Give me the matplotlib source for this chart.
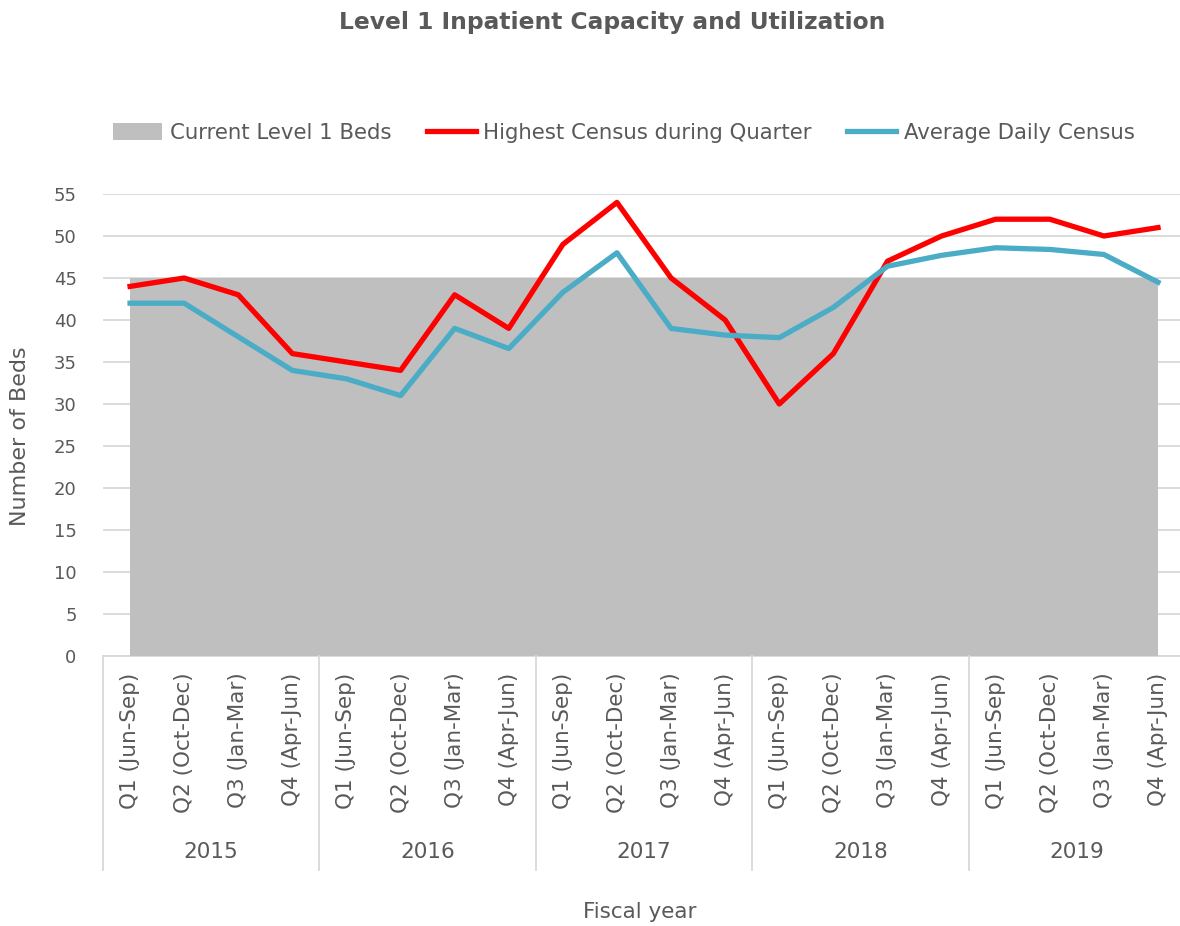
import numpy as np
import matplotlib.pyplot as plt
import matplotlib.transforms as mtransforms

plt.rcParams['font.family'] = ['DejaVu Sans']

years = ['2015', '2016', '2017', '2018', '2019']
quarters = ['Q1 (Jun-Sep)', 'Q2 (Oct-Dec)', 'Q3 (Jan-Mar)', 'Q4 (Apr-Jun)']
beds = [45] * 20
highest = [44, 45, 43, 36, 35, 34, 43, 39, 49, 54,
           45, 40, 30, 36, 47, 50, 52, 52, 50, 51]
average = [42, 42, 38, 34, 33, 31, 39, 36.6, 43.3, 48,
           39, 38.2, 37.9, 41.5, 46.4, 47.7, 48.6, 48.4, 47.8, 44.5]

labels = quarters * len(years)
x = np.arange(len(labels))
txt = '#595959'

fig = plt.figure(figsize=(11.8, 9.26), dpi=100)
ax = fig.add_axes([103 / 1180, 1 - 656 / 926, 1 - 103 / 1180, 462 / 926])

ax.fill_between(x, 0, beds, color='#bfbfbf', linewidth=0, label='Current Level 1 Beds', zorder=2)
ax.plot(x, highest, color='#ff0000', lw=3.8, label='Highest Census during Quarter', zorder=3)
ax.plot(x, average, color='#4bacc6', lw=3.8, label='Average Daily Census', zorder=3)

ax.set_ylim(0, 55)
ax.set_xlim(-0.5, 19 + 22 / 54.1)
ax.set_yticks(range(0, 56, 5))
ax.grid(axis='y', color='#d9d9d9', lw=1.3, zorder=0)
ax.set_axisbelow(True)
for s in ['top', 'right', 'left']:
    ax.spines[s].set_visible(False)
ax.spines['bottom'].set_color('#d9d9d9')
ax.spines['bottom'].set_linewidth(1.3)
ax.spines['bottom'].set_zorder(1)

ax.tick_params(axis='y', length=0, pad=19, labelsize=13, labelcolor=txt)
ax.set_xticks(x)
ax.set_xticklabels(labels, rotation=90, fontsize=15.5, color=txt)
ax.tick_params(axis='x', length=0, pad=12)

# year group labels and separators
trans = mtransforms.blended_transform_factory(ax.transData, ax.transAxes)
for i, yr in enumerate(years):
    ax.text(i * 4 + 1.5, -0.424, yr, transform=trans, ha='center', va='center',
            fontsize=15.5, color=txt)
for b in np.arange(-0.5, 20, 4):
    ax.plot([b, b], [0, -0.463], transform=trans, color='#d9d9d9', lw=1.3, clip_on=False)

fig.text(20 / 1180, 1 - 436 / 926, 'Number of Beds', rotation=90, ha='center', va='center',
         fontsize=16, color=txt)
fig.text(640 / 1180, 1 - 912 / 926, 'Fiscal year', ha='center', va='center', fontsize=15.5, color=txt)
fig.text(612 / 1180, 1 - 22 / 926, 'Level 1 Inpatient Capacity and Utilization',
         ha='center', va='center', fontsize=16.8, fontweight='bold', color=txt)

fig.legend(loc='center', bbox_to_anchor=(624 / 1180, 1 - 133 / 926), ncol=3, frameon=False,
           fontsize=15.3, labelcolor=txt, handlelength=2.3, handleheight=0.8, columnspacing=1.65,
           handletextpad=0.37)

fig.savefig('out.png', dpi=100)
